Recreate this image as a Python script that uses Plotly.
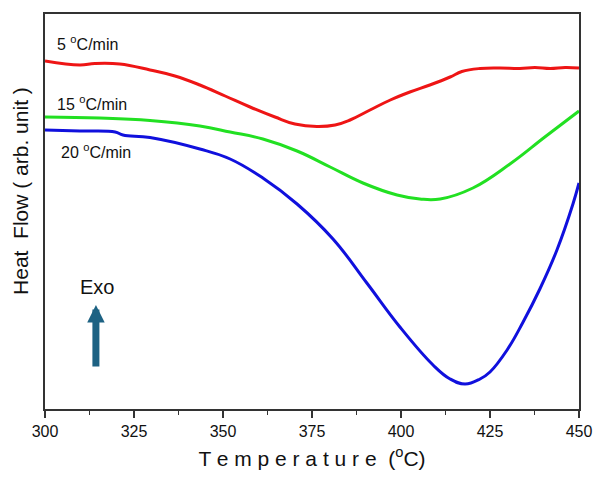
import plotly.graph_objects as go

# DSC heat-flow curves (arbitrary units) at three heating rates
temp_5 = [300, 309.8, 314, 321, 329.5, 336.5, 343.5, 350.6, 357.6, 364.6, 370.2, 376.4,
          381.5, 385.7, 391.3, 397, 402.5, 408.1, 413.8, 417.1, 422.2, 427.8, 433.4,
          437.6, 441.9, 446.1, 450]
flow_5 = [348, 344, 345.5, 345, 339, 333, 324, 313, 302, 292, 285, 282.5,
          284, 289, 299, 309, 317, 324, 332, 337.5, 340.5, 341, 340.5,
          341.5, 340.5, 341.5, 341]

temp_15 = [300, 315.4, 329.5, 343.5, 352, 361.2, 370.8, 380.1, 389.3, 398.9, 405.3,
           411, 420.2, 430.6, 440.4, 450]
flow_15 = [292, 291, 288.5, 283, 277, 270, 258, 242, 226, 214, 210,
           210, 221, 245, 272, 298]

temp_20 = [300, 309.8, 319.7, 321.9, 329.5, 343.5, 352, 361.2, 370.8, 380.9,
           390.4, 399.7, 409, 413.8, 418, 422.2, 425, 429.8, 434.3, 439, 443.8, 448.3, 450]
flow_20 = [279, 278, 277, 274, 271.5, 260, 250, 231, 205, 170,
           126, 82, 44, 30, 25, 30, 37, 59, 87, 120, 159, 205, 226]

x_ticks = [300, 325, 350, 375, 400, 425, 450]

font_family = "Liberation Sans, Arial, sans-serif"

fig = go.Figure()
for t, f, c in [(temp_5, flow_5, "#ee1515"),
                (temp_15, flow_15, "#22e022"),
                (temp_20, flow_20, "#1010dd")]:
    fig.add_trace(go.Scatter(x=t, y=f, mode="lines",
                             line=dict(color=c, width=3, shape="spline", smoothing=1.2),
                             showlegend=False, hoverinfo="skip"))

labels = [(302.8, 366, "5 <sup>o</sup>C/min"),
          (302.8, 306, "15 <sup>o</sup>C/min"),
          (303.9, 258, "20 <sup>o</sup>C/min")]
for x, y, txt in labels:
    fig.add_annotation(x=x, y=y, text=txt, showarrow=False, xanchor="left",
                       yanchor="middle", font=dict(size=16, color="#111111",
                                                   family=font_family))

# Exo direction marker
fig.add_annotation(x=314.3, y=104, ax=314.3, ay=41, axref="x", ayref="y",
                   xref="x", yref="y", text="", showarrow=True,
                   arrowhead=2, arrowsize=0.5, arrowwidth=7, arrowcolor="#1d6283")
fig.add_annotation(x=314.6, y=122, text="Exo", showarrow=False,
                   font=dict(size=20, color="#111111", family=font_family))

# Vertical axis title
fig.add_annotation(xref="paper", yref="paper", x=-0.045, y=0.552,
                   text="Heat  Flow ( arb. unit )", textangle=-90, showarrow=False,
                   xanchor="center", yanchor="middle",
                   font=dict(size=21, color="#111111", family=font_family))

fig.update_layout(
    width=595, height=478,
    margin=dict(l=45, r=16, t=14, b=69),
    plot_bgcolor="white", paper_bgcolor="white",
    font=dict(family=font_family, color="#111111"),
    xaxis=dict(range=[300, 450], tickvals=x_ticks, ticks="outside", ticklen=7,
               tickwidth=1.5, tickcolor="#333333", automargin=False,
               showline=True, linecolor="#333333", linewidth=1.5, mirror=True,
               showgrid=False, zeroline=False,
               tickfont=dict(size=16, color="#111111"),
               minor=dict(ticks="outside", ticklen=4, dtick=12.5, tick0=300,
                          tickcolor="#333333", tickwidth=1.2, showgrid=False),
               title=dict(text="T e m p e r a t u r e  (<sup>o</sup>C)",
                          font=dict(size=21, color="#111111"), standoff=12)),
    yaxis=dict(range=[0, 395], showticklabels=False, ticks="", automargin=False,
               showline=True, linecolor="#333333", linewidth=1.5, mirror=True,
               showgrid=False, zeroline=False),
)

fig.write_html("out.html")
